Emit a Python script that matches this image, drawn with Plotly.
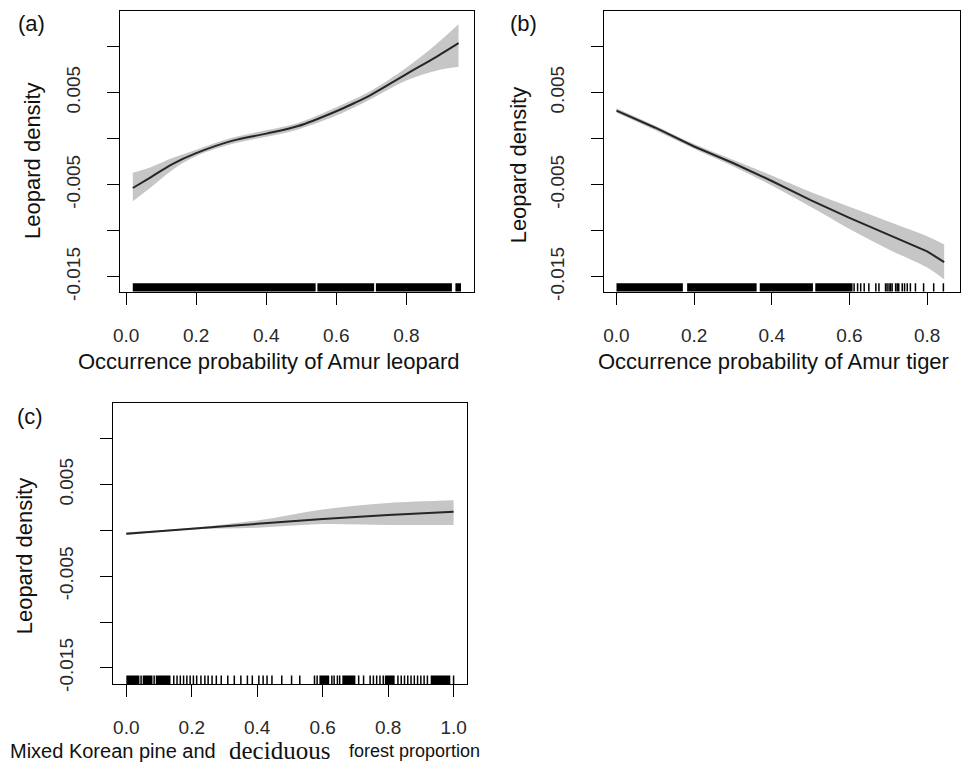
import plotly.graph_objects as go

W, H = 972, 773

# ---------------- data ----------------
# Panel (a): Occurrence probability of Amur leopard
xa = [0.019, 0.07, 0.132, 0.2, 0.302, 0.4, 0.491, 0.6, 0.652, 0.699, 0.8, 0.887, 0.949]
fit_a = [-0.00536, -0.0042, -0.00276, -0.00158, -0.00025, 0.00054, 0.00136, 0.00297, 0.00386, 0.00475, 0.00700, 0.00890, 0.01035]
upper_a = [-0.0037, -0.0031, -0.0021, -0.0012, 0.0001, 0.0009, 0.0017, 0.0034, 0.0043, 0.0052, 0.0077, 0.0103, 0.0124]
lower_a = [-0.0068, -0.0053, -0.0034, -0.0019, -0.0006, 0.0002, 0.0010, 0.0025, 0.0034, 0.0043, 0.0063, 0.0074, 0.0078]
rug_a_segments = [[0.019, 0.541], [0.546, 0.708], [0.713, 0.930], [0.940, 0.956]]
rug_a_ticks = []

# Panel (b): Occurrence probability of Amur tiger
xb = [0.0, 0.1, 0.2, 0.3, 0.4, 0.5, 0.6, 0.7, 0.8, 0.844]
fit_b = [0.00304, 0.00118, -0.00086, -0.00265, -0.0046, -0.00668, -0.0086, -0.01044, -0.01223, -0.0134]
upper_b = [0.0033, 0.0014, -0.0006, -0.0023, -0.0040, -0.0058, -0.0074, -0.0090, -0.0106, -0.0115]
lower_b = [0.0028, 0.0009, -0.0011, -0.0030, -0.0051, -0.0074, -0.0098, -0.0120, -0.0140, -0.0153]
rug_b_segments = [[0.0, 0.171], [0.182, 0.361], [0.369, 0.506], [0.512, 0.608]]
rug_b_ticks = [0.612, 0.621, 0.629, 0.638, 0.650, 0.668, 0.676, 0.693, 0.697, 0.702, 0.706,
               0.710, 0.719, 0.723, 0.727, 0.736, 0.742, 0.749, 0.757, 0.770, 0.791, 0.817, 0.842]

# Panel (c): Mixed Korean pine and deciduous forest proportion
xc = [0.0, 0.2, 0.4, 0.6, 0.8, 1.0]
fit_c = [-0.00036, 0.00018, 0.00072, 0.00126, 0.0017, 0.00205]
upper_c = [-0.0002, 0.0003, 0.0011, 0.0023, 0.0030, 0.0033]
lower_c = [-0.0005, 0.0001, 0.0003, 0.0007, 0.0006, 0.0006]
rug_c_segments = [[0.0, 0.04], [0.05, 0.08], [0.09, 0.135], [0.59, 0.62], [0.66, 0.70], [0.79, 0.82], [0.93, 0.99]]
rug_c_ticks = [0.045, 0.085, 0.145, 0.155, 0.165, 0.175, 0.185, 0.195, 0.205, 0.215, 0.228, 0.24,
               0.25, 0.262, 0.275, 0.29, 0.31, 0.33, 0.35, 0.37, 0.385, 0.405, 0.418, 0.43, 0.445,
               0.475, 0.505, 0.53, 0.575, 0.583, 0.628, 0.635, 0.645, 0.652, 0.71, 0.725, 0.745,
               0.755, 0.765, 0.775, 0.785, 0.83, 0.84, 0.85, 0.86, 0.87, 0.88, 0.89, 0.9, 0.91,
               0.92, 1.0]

y_tickvals = [-0.015, -0.01, -0.005, 0.0, 0.005, 0.01]
y_ticktext = ["-0.015", "", "-0.005", "", "0.005", ""]
xab_tickvals = [0.0, 0.2, 0.4, 0.6, 0.8]
xab_ticktext = ["0.0", "0.2", "0.4", "0.6", "0.8"]
xc_tickvals = [0.0, 0.2, 0.4, 0.6, 0.8, 1.0]
xc_ticktext = ["0.0", "0.2", "0.4", "0.6", "0.8", "1.0"]

xtitle_a = "Occurrence probability of Amur leopard"
xtitle_b = "Occurrence probability of Amur tiger"
ytitle = "Leopard density"

# ---------------- style ----------------
BAND = "#c6c6c6"
LINE = "#262626"
TICKFONT = dict(family="Liberation Sans, Arial, sans-serif", size=19, color="#2a2a2a")
TITLEFONT = dict(family="Liberation Sans, Arial, sans-serif", size=22, color="#111111")


def px2x(p):
    return p / W


def px2y(p):
    return 1 - p / H


fig = go.Figure()

panels = [
    dict(x=xa, fit=fit_a, up=upper_a, lo=lower_a, segs=rug_a_segments, ticks=rug_a_ticks,
         xax="x", yax="y", dom_x=[114, 470], dom_y=[11, 295], xr=[-0.017, 0.992],
         yr=[-0.0166, 0.01386], tv=xab_tickvals, tt=xab_ticktext, shape="spline"),
    dict(x=xb, fit=fit_b, up=upper_b, lo=lower_b, segs=rug_b_segments, ticks=rug_b_ticks,
         xax="x2", yax="y2", dom_x=[601, 960], dom_y=[11, 295], xr=[-0.033, 0.885],
         yr=[-0.0166, 0.01386], tv=xab_tickvals, tt=xab_ticktext, shape="linear"),
    dict(x=xc, fit=fit_c, up=upper_c, lo=lower_c, segs=rug_c_segments, ticks=rug_c_ticks,
         xax="x3", yax="y3", dom_x=[107, 463], dom_y=[408, 692], xr=[-0.04, 1.04],
         yr=[-0.01676, 0.01389], tv=xc_tickvals, tt=xc_ticktext, shape="spline"),
]

shapes = []
for i, p in enumerate(panels):
    # confidence band
    fig.add_trace(go.Scatter(x=p["x"], y=p["up"], mode="lines",
                             line=dict(width=0, color=BAND, shape="spline"),
                             xaxis=p["xax"], yaxis=p["yax"], showlegend=False, hoverinfo="skip"))
    fig.add_trace(go.Scatter(x=p["x"], y=p["lo"], mode="lines",
                             line=dict(width=0, color=BAND, shape="spline"),
                             fill="tonexty", fillcolor=BAND,
                             xaxis=p["xax"], yaxis=p["yax"], showlegend=False, hoverinfo="skip"))
    # fitted line
    fig.add_trace(go.Scatter(x=p["x"], y=p["fit"], mode="lines",
                             line=dict(width=2, color=LINE, shape=p["shape"]),
                             xaxis=p["xax"], yaxis=p["yax"], showlegend=False))
    # rug
    yref = p["yax"] + " domain"
    for s in p["segs"]:
        shapes.append(dict(type="rect", xref=p["xax"], yref=yref, x0=s[0], x1=s[1], y0=0, y1=0.03,
                           fillcolor="black", line=dict(width=0)))
    for t in p["ticks"]:
        shapes.append(dict(type="line", xref=p["xax"], yref=yref, x0=t, x1=t, y0=0, y1=0.03,
                           line=dict(width=1.5, color="black")))

    axis_common = dict(showline=True, mirror=True, linecolor="black", linewidth=1.3,
                       ticks="outside", ticklen=12, tickwidth=1.3, tickcolor="black",
                       showgrid=False, zeroline=False, tickfont=TICKFONT, fixedrange=True)
    sx = "" if i == 0 else str(i + 1)
    fig.update_layout(**{
        "xaxis" + sx: dict(axis_common, domain=[px2x(p["dom_x"][0]), px2x(p["dom_x"][1])],
                           range=p["xr"], tickvals=p["tv"], ticktext=p["tt"],
                           anchor=p["yax"], ticklabelstandoff=14),
        "yaxis" + sx: dict(axis_common, domain=[px2y(p["dom_y"][1]), px2y(p["dom_y"][0])],
                           range=p["yr"], tickvals=y_tickvals, ticktext=y_ticktext,
                           tickangle=-90, anchor=p["xax"], ticklabelstandoff=19),
    })

annotations = []


def ann(text, x, y, font, angle=0, xanchor="center", yanchor="middle"):
    annotations.append(dict(text=text, x=px2x(x), y=px2y(y), xref="paper", yref="paper",
                            showarrow=False, font=font, textangle=angle,
                            xanchor=xanchor, yanchor=yanchor, borderpad=0))


LABELFONT = dict(family="Liberation Sans, Arial, sans-serif", size=22, color="#111111")
ann("(a)", 25, 24, LABELFONT)
ann("(b)", 520, 24, LABELFONT)
ann("(c)", 23, 421, LABELFONT)

ann(xtitle_a, 264, 366, TITLEFONT)
ann(xtitle_b, 772, 366, TITLEFONT)
ann(ytitle, 25, 162, TITLEFONT, angle=-90)
ann(ytitle, 515, 167, TITLEFONT, angle=-90)
ann(ytitle, 18, 562, TITLEFONT, angle=-90)

ann("Mixed Korean pine and", 2, 760, dict(family="Liberation Sans, Arial, sans-serif", size=20, color="#111111"),
    xanchor="left")
ann("deciduous", 223, 759, dict(family="Liberation Serif, Times New Roman, serif", size=25, color="#111111"),
    xanchor="left")
ann("forest proportion", 343, 760, dict(family="Liberation Sans, Arial, sans-serif", size=18, color="#111111"),
    xanchor="left")

fig.update_layout(width=W, height=H, margin=dict(l=0, r=0, t=0, b=0),
                  paper_bgcolor="white", plot_bgcolor="white",
                  shapes=shapes, annotations=annotations, showlegend=False)

fig.write_html("out.html", config={"displayModeBar": False},
               post_script="document.body.style.margin='0';document.body.style.padding='0';document.body.style.overflow='hidden';")
